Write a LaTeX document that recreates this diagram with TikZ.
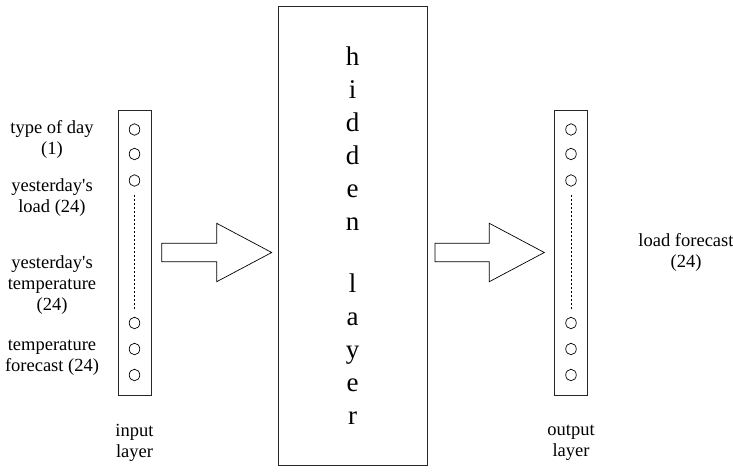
\documentclass[tikz,border=0pt]{standalone}
\usepackage{fontspec}
\setmainfont{Liberation Serif}
\usetikzlibrary{shapes.geometric}
\begin{document}
\begin{tikzpicture}[x=1pt,y=-1pt,
  lbl/.style={font=\fontsize{18.5}{21}\selectfont, align=center, inner sep=0},
  layerbox/.style={draw=black!85, line width=0.8pt, minimum width=33pt, minimum height=285pt, inner sep=0},
  neuron/.style={draw, ellipse, minimum width=10.5pt, minimum height=11.5pt, inner sep=0, line width=0.7pt},
  blockarrow/.style={draw, line width=0.7pt, line join=miter},
  dots/.style={dash pattern=on 2.5pt off 1.5pt, line width=0.6pt}]
\useasboundingbox (0,0) rectangle (733,471);

% input layer
\node[layerbox] (inbox) at (134.5,252.5) {};
\node[neuron] (i1) at (134.5,129.5) {};
\node[neuron] (i2) at (134.5,154) {};
\node[neuron] (i3) at (134.5,180.5) {};
\node[neuron] (i4) at (134.5,323) {};
\node[neuron] (i5) at (134.5,349) {};
\node[neuron] (i6) at (134.5,375) {};
\draw[dots] ([yshift=-8pt]i3.south) -- ([yshift=8pt]i4.north);

% output layer
\node[layerbox] (outbox) at (571,252.5) {};
\node[neuron] (o1) at (571,129.5) {};
\node[neuron] (o2) at (571,154) {};
\node[neuron] (o3) at (571,180.5) {};
\node[neuron] (o4) at (571,323) {};
\node[neuron] (o5) at (571,349) {};
\node[neuron] (o6) at (571,375) {};
\draw[dots] ([yshift=-8pt]o3.south) -- ([yshift=8pt]o4.north);

% hidden layer
\node[draw=black!85, line width=0.8pt, minimum width=149pt, minimum height=459pt, inner sep=0] (hid) at (352.5,235.5) {};
\node[font=\fontsize{27}{33}\selectfont, align=center, inner sep=0] (hidtxt) at (352.5,236)
  {h\\i\\d\\d\\e\\n\\[29pt]l\\a\\y\\e\\r};

% block arrows
\draw[blockarrow] (161.7,243.3) -- (216.7,243.3) -- (216.7,223.3) -- (271.7,252.5)
  -- (216.7,281.7) -- (216.7,261.7) -- (161.7,261.7) -- cycle;
\draw[blockarrow] (435,243.3) -- (489.3,243.3) -- (489.3,223.3) -- (544.3,252.5)
  -- (489.3,281.7) -- (489.3,261.7) -- (435,261.7) -- cycle;

% labels
\node[lbl] (l1) at (52,139.5) {type of day\\(1)};
\node[lbl] (l2) at (52,197.5) {yesterday\textquotesingle s\\load (24)};
\node[lbl] (l3) at (52,285.5) {yesterday\textquotesingle s\\temperature\\(24)};
\node[lbl] (l4) at (52,357.5) {temperature\\forecast (24)};
\node[lbl] (inlbl) at (134.5,442.5) {input\\layer};
\node[lbl] (outlbl) at (571,443) {output\\layer};
\node[lbl] (fc) at (686,252) {load forecast\\(24)};
\end{tikzpicture}
\end{document}
